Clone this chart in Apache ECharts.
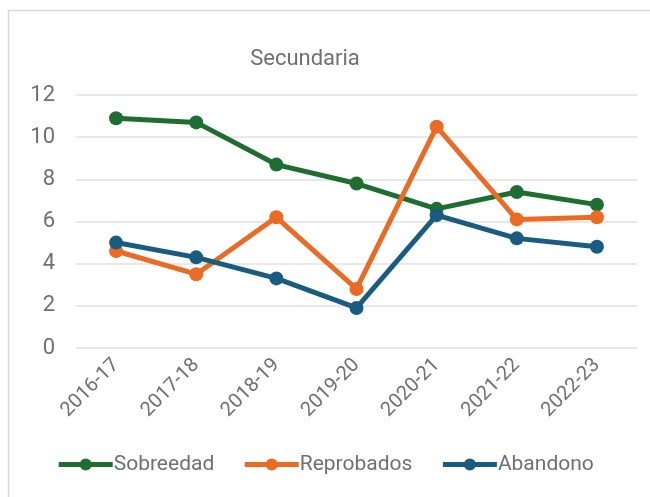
<!DOCTYPE html>
<html>
<head>
<meta charset="utf-8">
<script src="https://cdn.jsdelivr.net/npm/echarts@6/dist/echarts.min.js"></script>
<style>
  html, body { margin: 0; padding: 0; background: #fff; }
  #main { width: 650px; height: 497px; }
</style>
</head>
<body>
<div id="main"></div>
<script>
var ciclos = ['2016-17', '2017-18', '2018-19', '2019-20', '2020-21', '2021-22', '2022-23'];
var sobreedad = [10.9, 10.7, 8.7, 7.8, 6.6, 7.4, 6.8];
var reprobados = [4.6, 3.5, 6.2, 2.8, 10.5, 6.1, 6.2];
var abandono = [5.0, 4.3, 3.3, 1.9, 6.3, 5.2, 4.8];

var chart = echarts.init(document.getElementById('main'));

function serie(nombre, datos, color) {
    return {
        name: nombre,
        type: 'line',
        data: datos,
        symbol: 'circle',
        symbolSize: 14,
        lineStyle: { width: 5, color: color },
        itemStyle: { color: color },
        emphasis: { disabled: true }
    };
}

var option = {
    animation: false,
    textStyle: { fontFamily: 'Roboto' },
    graphic: [{
        type: 'rect',
        shape: { x: 8.5, y: 10.5, width: 700, height: 600 },
        style: { fill: 'none', stroke: '#d9d9d9', lineWidth: 1.5 },
        silent: true
    }],
    title: {
        text: 'Secundaria',
        left: 300,
        textAlign: 'center',
        top: 43,
        textStyle: { fontSize: 22, fontWeight: 'normal', color: '#707070' }
    },
    legend: {
        bottom: 17,
        left: 'center',
        itemWidth: 54,
        itemHeight: 15,
        itemGap: 28,
        lineStyle: { width: 5 },
        textStyle: { fontSize: 21, color: '#707070', padding: [0, 0, 0, -4] },
        data: ['Sobreedad', 'Reprobados', 'Abandono']
    },
    grid: { left: 76, right: 13, top: 95, bottom: 149 },
    xAxis: {
        type: 'category',
        data: ciclos,
        boundaryGap: true,
        axisLine: { show: false },
        axisTick: { show: false },
        axisLabel: { rotate: 45, fontSize: 20, color: '#707070', margin: 14 }
    },
    yAxis: {
        type: 'value',
        min: 0,
        max: 12,
        interval: 2,
        axisLabel: { fontSize: 22, color: '#707070', margin: 21 },
        splitLine: { lineStyle: { color: '#e0e0e0', width: 1.5 } }
    },
    series: [
        serie('Sobreedad', sobreedad, '#1f6e31'),
        serie('Reprobados', reprobados, '#ea6b25'),
        serie('Abandono', abandono, '#1a5b80')
    ]
};

chart.setOption(option);
</script>
</body>
</html>
